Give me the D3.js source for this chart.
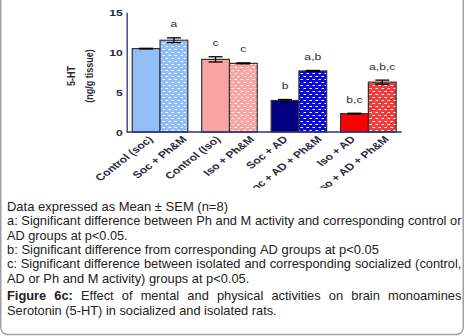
<!DOCTYPE html>
<html><head><meta charset="utf-8">
<script src="https://cdn.jsdelivr.net/npm/d3@7"></script>
<style>
body{margin:0;background:#fff}
svg{display:block;font-family:Arial,"Liberation Sans",sans-serif}
</style>
</head><body>
<svg id="fig" width="465" height="336"></svg>
<script>
// Serotonin (5-HT) levels per treatment group, mean and SEM (ng/g tissue)
const groups = ["Control (soc)", "Soc + Ph&M", "Control (Iso)", "Iso + Ph&M",
                "Soc + AD", "Soc + AD + Ph&M", "Iso + AD", "Iso + AD + Ph&M"];
const clusters = ["Control", "Iso", "AD", "Iso AD"];
const means = [10.45, 11.5, 9.1, 8.6, 3.95, 7.65, 2.3, 6.25];
const sems = [0.04, 0.3, 0.33, 0.06, 0.12, 0.06, 0.05, 0.25];
const letters = ["", "a", "c", "c", "b", "a,b", "b,c", "a,b,c"];
const yTicks = [0, 5, 10, 15];
const fills = ["#91bef7", "#91bef7", "#f9a3a3", "#f9a3a3", "#000080", "#0a0ad8", "#ff0000", "#f23d3d"];
const dotted = [false, true, false, true, false, true, false, true];

// caption lines; "end" is where a ragged line stops, justified lines run to the right margin
const captionLines = [
  {text: "Data expressed as Mean \u00b1 SEM (n=8)", end: 228},
  {text: "a: Significant difference between Ph and M activity and corresponding control or", justify: true},
  {text: "AD groups at p<0.05.", end: 127.7},
  {text: "b: Significant difference from corresponding AD groups at p<0.05", end: 379},
  {text: "c: Significant difference between isolated and corresponding socialized (control,", justify: true},
  {text: "AD or Ph and M activity) groups at p<0.05.", end: 249.3},
  {text: "Figure 6c: Effect of mental and physical activities on brain monoamines", justify: true, bold: 2, gap: 3.5},
  {text: "Serotonin (5-HT) in socialized and isolated rats.", end: 276.7}
];

const svg = d3.select("#fig");
const ink = "#2b2b40", axisCol = "#2e2e80";
const sx = 1.28;            // horizontal text stretch of the figure
const font = "Arial, 'Liberation Sans', sans-serif";

// outer frame
svg.append("rect").attr("x", 0.75).attr("y", -12).attr("width", 462.5).attr("height", 346.5)
  .attr("rx", 7).attr("fill", "none").attr("stroke", "#a0a0a0").attr("stroke-width", 1.5);

// white dash pattern for the activity groups
const defs = svg.append("defs");
fills.forEach((c, i) => {
  if (!dotted[i]) return;
  const p = defs.append("pattern").attr("id", "pat" + i).attr("patternUnits", "userSpaceOnUse")
    .attr("width", 6).attr("height", 6);
  p.append("rect").attr("width", 6).attr("height", 6).attr("fill", c);
  p.append("rect").attr("x", 0.5).attr("y", 1).attr("width", 2.5).attr("height", 1).attr("fill", "#fff");
  p.append("rect").attr("x", 3.5).attr("y", 4).attr("width", 2.5).attr("height", 1).attr("fill", "#fff");
});
defs.append("clipPath").attr("id", "plotclip").append("rect")
  .attr("x", 0).attr("y", 0).attr("width", 465).attr("height", 188);

const g = svg.append("g").attr("clip-path", "url(#plotclip)");

const y = d3.scaleLinear().domain([0, 15]).range([132, 12.3]);
const xc = d3.scaleBand().domain(clusters).range([126.7, 401.7]).paddingInner(0.2).paddingOuter(0.08);
const xs = d3.scaleBand().domain([0, 1]).range([0, xc.bandwidth()]);
const barX = i => xc(clusters[Math.floor(i / 2)]) + xs(i % 2);
const bw = xs.bandwidth();

// bars
g.selectAll("rect.bar").data(means).join("rect").attr("class", "bar")
  .attr("x", (d, i) => barX(i)).attr("width", bw)
  .attr("y", d => y(d)).attr("height", d => y(0) - y(d))
  .attr("fill", (d, i) => dotted[i] ? `url(#pat${i})` : fills[i])
  .attr("stroke", "#333").attr("stroke-width", 1.2);

// error bars
const cap = 7;
means.forEach((m, i) => {
  const cx = barX(i) + bw / 2;
  const eb = g.append("g").attr("stroke", "#000").attr("stroke-width", 1.3);
  eb.append("line").attr("x1", cx).attr("x2", cx).attr("y1", y(m + sems[i])).attr("y2", y(m - sems[i]));
  eb.append("line").attr("x1", cx - cap).attr("x2", cx + cap).attr("y1", y(m + sems[i])).attr("y2", y(m + sems[i]));
  eb.append("line").attr("x1", cx - cap).attr("x2", cx + cap).attr("y1", y(m - sems[i])).attr("y2", y(m - sems[i]));
});

// significance letters
g.selectAll("text.sig").data(letters).join("text").attr("class", "sig")
  .attr("transform", (d, i) => `translate(${barX(i) + bw / 2},${y(means[i] + sems[i]) - 10.5}) scale(${sx},1)`)
  .attr("text-anchor", "middle").attr("font-size", 9.5)
  .attr("fill", ink).text(d => d);

// axes
const yAxis = d3.axisLeft(y).tickValues(yTicks).tickSize(0).tickPadding(0);
const ya = g.append("g").attr("transform", `translate(${126.7},0)`).call(yAxis);
ya.select(".domain").attr("stroke", axisCol).attr("stroke-width", 1.3);
ya.selectAll("text").attr("font-size", 9.5).attr("font-weight", "bold").attr("fill", ink)
  .attr("font-family", font).attr("x", null).attr("dy", null)
  .attr("transform", `translate(-4,3.3) scale(${sx},1)`);

const xAxisScale = d3.scalePoint().domain(groups).range([barX(0) + bw / 2, barX(7) + bw / 2]);
const xa = g.append("g").attr("transform", `translate(0,${y(0)})`)
  .call(d3.axisBottom(xAxisScale).tickSize(0).tickSizeOuter(0));
xa.select(".domain").attr("d", `M126.7,0H401.7`).attr("stroke", axisCol).attr("stroke-width", 1.3);
xa.selectAll("text").attr("font-size", 9.5).attr("font-weight", "bold").attr("fill", ink)
  .attr("font-family", font)
  .attr("text-anchor", "end").attr("dy", null).attr("y", 0)
  .attr("transform", `translate(7,8) scale(${sx},1) rotate(-45)`);

// y axis title
const yt = g.append("text").attr("transform", `translate(75,76) scale(${sx},1) rotate(-90)`)
  .attr("text-anchor", "middle").attr("font-size", 9).attr("font-weight", "bold").attr("fill", ink);
yt.append("tspan").attr("x", 0).attr("dy", 0).text("5-HT");
yt.append("tspan").attr("x", 0).attr("dy", 18 / sx).text("(ng/g tissue)");

// caption: ragged lines are stretched to their extent, justified lines spread their words
const cap0 = 211, lh = 14.3, left = 7, right = 461.5, spaceW = 3.33;
let yy = cap0;
const built = captionLines.map((ln, k) => {
  if (k > 0) yy += lh + (ln.gap || 0);
  const words = ln.text.split(" ");
  const t = svg.append("text").attr("font-size", 12).attr("fill", "#222");
  const spans = words.map((w, j) => t.append("tspan")
    .attr("font-weight", ln.bold && j < ln.bold ? "bold" : null).text(w));
  const widths = spans.map(s => s.node().getComputedTextLength());
  const natural = d3.sum(widths) + spaceW * (words.length - 1);
  const k2 = ln.justify ? null : (ln.end - left) / natural;
  return {ln, t, spans, widths, natural, k: k2, y: yy};
});
const kCommon = d3.median(built.filter(b => b.k).map(b => b.k));
built.forEach(b => {
  let k = b.k, space = spaceW;
  if (b.ln.justify) {
    k = Math.min(kCommon, (right - left) / b.natural);
    space = ((right - left) / k - d3.sum(b.widths)) / (b.widths.length - 1);
  }
  b.t.attr("transform", `translate(${left},${b.y}) scale(${k},1)`);
  let x = 0;
  b.spans.forEach((s, j) => { s.attr("x", x); x += b.widths[j] + space; });
});
</script>
</body></html>
